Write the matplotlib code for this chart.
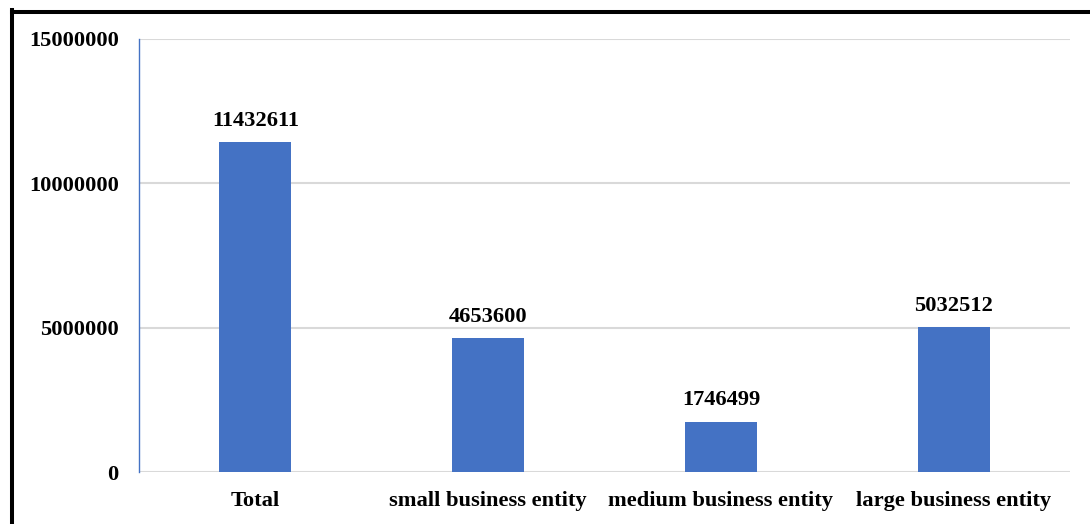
import matplotlib
matplotlib.use("Agg")
import matplotlib.pyplot as plt
from matplotlib.lines import Line2D

categories = ["Total", "small business entity", "medium business entity", "large business entity"]
values = [11432611, 4653600, 1746499, 5032512]
yticks = [0, 5000000, 10000000, 15000000]
ytick_labels = ["0", "5000000", "10000000", "15000000"]

plt.rcParams['font.family'] = ['Liberation Serif', 'DejaVu Serif']
plt.rcParams['font.weight'] = 'bold'

fig = plt.figure(figsize=(10.9, 5.24), dpi=100)
ax = fig.add_axes([139/1090, 1-472/524, (1070-139)/1090, (472-39)/524])

x = list(range(len(categories)))
bars = ax.bar(x, values, width=0.31, color="#4472C4", zorder=3)
ax.set_xlim(-0.5, 3.5)
ax.set_ylim(0, 15000000)
ax.set_yticks(yticks)
ax.set_yticklabels(ytick_labels)
ax.set_xticks(x)
ax.set_xticklabels(categories)
ax.yaxis.grid(True, color="#d9d9d9", linewidth=1.5, zorder=0)
ax.set_axisbelow(True)
for s in ["top", "right", "bottom"]:
    ax.spines[s].set_visible(False)
ax.spines["left"].set_color("#4472C4")
ax.spines["left"].set_linewidth(1.0)
ax.tick_params(axis="both", length=0, labelsize=16.2)
ax.tick_params(axis="y", pad=14.5)
ax.tick_params(axis="x", pad=13.5)
for lab in ax.get_xticklabels() + ax.get_yticklabels():
    lab.set_fontweight("bold")

for xi, v in zip(x, values):
    ax.annotate(f"{v}", (xi, v), xytext=(0, 8), textcoords="offset points",
                ha="center", va="bottom", fontsize=16.2, fontweight="bold")

# outer border (left and top)
fig.add_artist(Line2D([12/1090, 12/1090], [0, 1-10/524], transform=fig.transFigure,
                      color="black", linewidth=2.9, solid_capstyle="projecting"))
fig.add_artist(Line2D([12/1090, 1], [1-11.5/524, 1-11.5/524], transform=fig.transFigure,
                      color="black", linewidth=2.9, solid_capstyle="projecting"))

fig.savefig("out.png", dpi=100)
